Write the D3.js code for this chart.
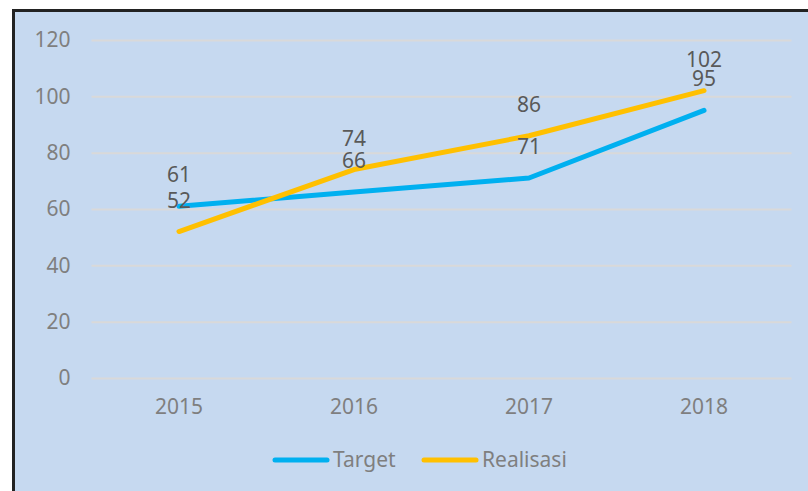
<!DOCTYPE html>
<html>
<head>
<meta charset="utf-8">
<script src="https://cdn.jsdelivr.net/npm/d3@7"></script>
<style>
  body { margin: 0; background: #fff; }
  svg { display: block; font-family: "Noto Sans", "Open Sans", sans-serif; }
</style>
</head>
<body>
<svg id="chart" width="808" height="491"></svg>
<script>
var years = ["2015", "2016", "2017", "2018"];
var target = [61, 66, 71, 95];
var realisasi = [52, 74, 86, 102];
var yTicks = [0, 20, 40, 60, 80, 100, 120];

var series = [
    {name: "Target", values: target, color: "#00b0f0"},
    {name: "Realisasi", values: realisasi, color: "#ffc000"}
];

var svg = d3.select("#chart");

// panel with a dark border on the left/top, runs off the page
svg.append("rect")
    .attr("x", 13.5).attr("y", 10.5)
    .attr("width", 820).attr("height", 500)
    .attr("fill", "#c6d9f0")
    .attr("stroke", "#222")
    .attr("stroke-width", 3);

var margin = {left: 91.5, right: 16.5, top: 40, bottom: 113},
    width = 808 - margin.left - margin.right,
    height = 491 - margin.top - margin.bottom;

var g = svg.append("g")
    .attr("transform", "translate(" + margin.left + "," + margin.top + ")");

var x = d3.scaleBand().domain(years).range([0, width]);
var y = d3.scaleLinear().domain([0, 120]).range([height, 0]);

// grid lines
g.append("g")
    .attr("class", "grid")
    .call(d3.axisLeft(y).tickValues(yTicks).tickSize(-width).tickFormat(""))
    .call(function (a) {
        a.select(".domain").remove();
        a.selectAll("line").attr("stroke", "#d9d9d9").attr("stroke-width", 2);
    });

// y axis labels
g.append("g")
    .call(d3.axisLeft(y).tickValues(yTicks).tickSize(0).tickPadding(21))
    .call(function (a) {
        a.select(".domain").remove();
        a.selectAll("text")
            .attr("fill", "#7f7f7f")
            .style("font-size", "21px")
            .style("font-family", "'Noto Sans', sans-serif");
    });

// x axis labels
g.append("g")
    .attr("transform", "translate(0," + height + ")")
    .call(d3.axisBottom(x).tickSize(0).tickPadding(21))
    .call(function (a) {
        a.select(".domain").remove();
        a.selectAll("text")
            .attr("fill", "#7f7f7f")
            .style("font-size", "21px")
            .style("font-family", "'Noto Sans', sans-serif");
    });

var line = d3.line()
    .x(function (d, i) { return x(years[i]) + x.bandwidth() / 2; })
    .y(function (d) { return y(d); });

series.forEach(function (s) {
    g.append("path")
        .datum(s.values)
        .attr("fill", "none")
        .attr("stroke", s.color)
        .attr("stroke-width", 5)
        .attr("stroke-linecap", "round")
        .attr("stroke-linejoin", "round")
        .attr("d", line);
});

// data labels above each point
series.forEach(function (s) {
    g.selectAll(".lbl-" + s.name)
        .data(s.values)
        .enter().append("text")
        .attr("class", "lbl-" + s.name)
        .attr("x", function (d, i) { return x(years[i]) + x.bandwidth() / 2; })
        .attr("y", function (d) { return y(d) - 24; })
        .attr("text-anchor", "middle")
        .attr("fill", "#595959")
        .style("font-size", "21px")
        .text(function (d) { return d; });
});

// legend
var legend = svg.append("g").attr("transform", "translate(273,460)");
var lx = [0, 149];
series.forEach(function (s, i) {
    var it = legend.append("g").attr("transform", "translate(" + lx[i] + ",0)");
    it.append("line")
        .attr("x1", 2).attr("x2", 54)
        .attr("stroke", s.color)
        .attr("stroke-width", 5)
        .attr("stroke-linecap", "round");
    it.append("text")
        .attr("x", 60).attr("y", 7)
        .attr("fill", "#7f7f7f")
        .style("font-size", "21px")
        .text(s.name);
});
</script>
</body>
</html>
